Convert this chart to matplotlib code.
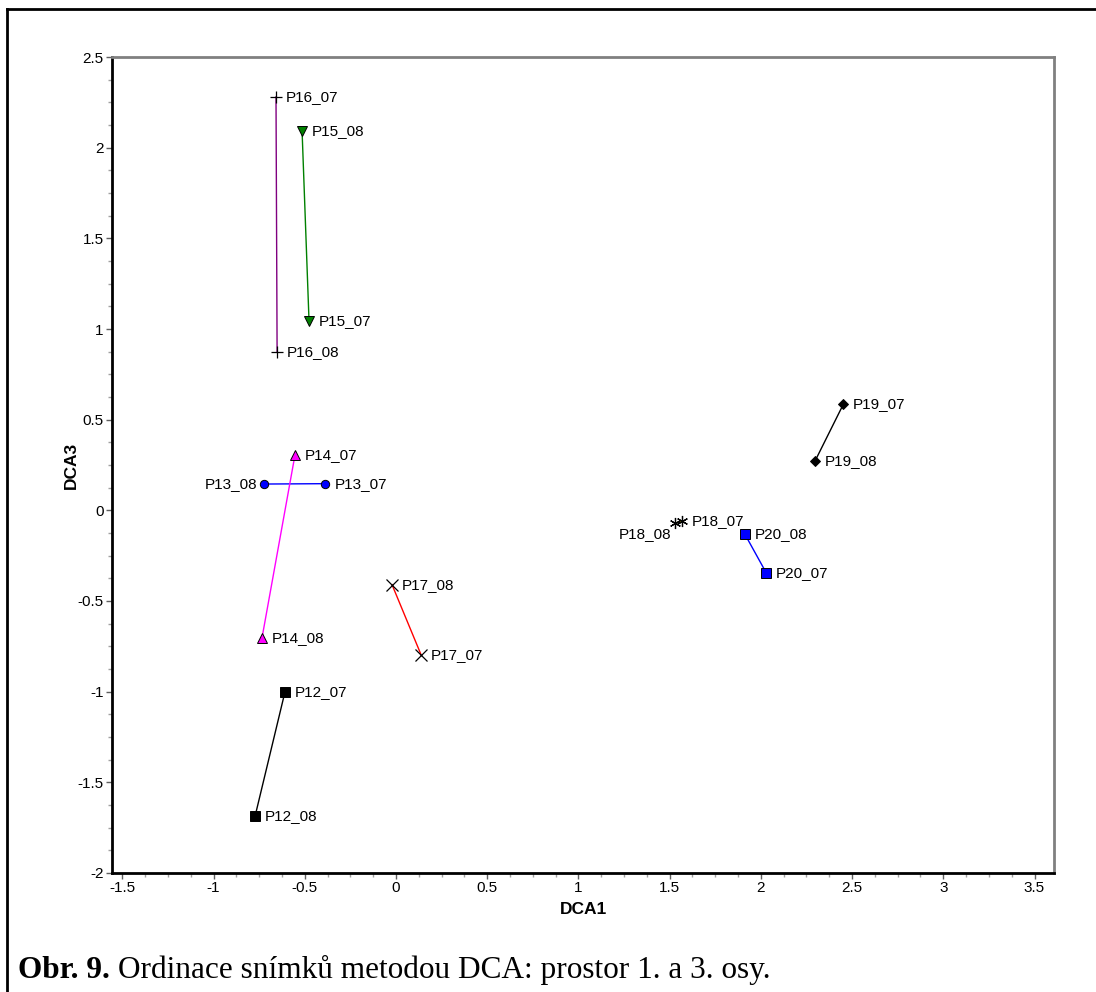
import matplotlib
matplotlib.use("Agg")
import matplotlib.pyplot as plt
from matplotlib.lines import Line2D
from matplotlib.ticker import MultipleLocator

plt.rcParams['font.family'] = ['Liberation Sans', 'DejaVu Sans']

# DCA site scores (axis 1, axis 3) for each plot in 2007 and 2008
plots = ["P12", "P13", "P14", "P15", "P16", "P17", "P18", "P19", "P20"]
dca1_07 = [-0.609, -0.389, -0.554, -0.477, -0.658, 0.137, 1.570, 2.452, 2.029]
dca3_07 = [-1.002, 0.147, 0.305, 1.045, 2.280, -0.796, -0.060, 0.585, -0.344]
dca1_08 = [-0.773, -0.724, -0.735, -0.515, -0.652, -0.022, 1.530, 2.297, 1.913]
dca3_08 = [-1.688, 0.145, -0.705, 2.090, 0.872, -0.410, -0.070, 0.272, -0.133]

line_colors = ["black", "blue", "#FF00FF", "#008000", "#800080", "red", "#FFFF00", "black", "blue"]
markers = ["s", "o", "^", "v", "+", "x", (6, 2, 0), "D", "s"]
marker_faces = ["black", "blue", "#FF00FF", "#008000", "black", "black", "black", "black", "blue"]
marker_sizes = [7, 6, 7, 7, 8, 8, 8, 5, 7]

# label offsets in points (dx, dy, ha) for the 2007 and 2008 samples
off_07 = [(7, 0, "left")] * 9
off_08 = [(7, 0, "left"), (-5, 0, "right"), (7, 0, "left"), (7, 0, "left"),
          (7, 0, "left"), (7, 0, "left"), (-3, -8, "right"), (7, 0, "left"), (7, 0, "left")]

fig = plt.figure(figsize=(10.96, 9.92), dpi=100)
ax = fig.add_axes([0.1022, 0.12, 0.8595, 0.8225])

for i, p in enumerate(plots):
    ax.plot([dca1_07[i], dca1_08[i]], [dca3_07[i], dca3_08[i]],
            color=line_colors[i], lw=1.0, zorder=2)
    for xv, yv, yr, off in ((dca1_07[i], dca3_07[i], "07", off_07[i]),
                            (dca1_08[i], dca3_08[i], "08", off_08[i])):
        m = markers[i]
        if m in ("+", "x", (6, 2, 0)):
            ax.plot(xv, yv, marker=m, ms=marker_sizes[i], color="black",
                    mew=0.9, ls="none", zorder=3)
        else:
            ax.plot(xv, yv, marker=m, ms=marker_sizes[i], mfc=marker_faces[i],
                    mec="black", mew=0.7, ls="none", zorder=3)
        ax.annotate(f"{p}_{yr}", (xv, yv), xytext=(off[0], off[1]),
                    textcoords="offset points", ha=off[2], va="center",
                    fontsize=11, color="black")

ax.xaxis.set_major_locator(MultipleLocator(0.5))
ax.xaxis.set_minor_locator(MultipleLocator(0.125))
ax.yaxis.set_major_locator(MultipleLocator(0.5))
ax.yaxis.set_minor_locator(MultipleLocator(0.125))
ax.set_xlim(-1.557, 3.607)
ax.set_ylim(-2, 2.5)

def fmt(v):
    s = f"{v:g}"
    return "0" if s in ("-0", "0") else s

xt = [v for v in ax.get_xticks() if -1.557 <= v <= 3.607]
yt = [v for v in ax.get_yticks() if -2 <= v <= 2.5]
ax.set_xticks(xt)
ax.set_xticklabels([fmt(v) for v in xt])
ax.set_yticks(yt)
ax.set_yticklabels([fmt(v) for v in yt])
ax.set_xlim(-1.557, 3.607)
ax.set_ylim(-2, 2.5)

ax.tick_params(which="major", direction="out", length=4, width=1, color="#606060",
               labelsize=11, pad=2)
ax.tick_params(which="minor", direction="out", length=3, width=1, color="#a0a0a0")

for s in ("left", "bottom"):
    ax.spines[s].set_color("black")
    ax.spines[s].set_linewidth(2)
for s in ("top", "right"):
    ax.spines[s].set_color("#808080")
    ax.spines[s].set_linewidth(2)

ax.set_xlabel("DCA1", fontsize=12.5, fontweight="bold", labelpad=5)
ax.set_ylabel("DCA3", fontsize=12.5, fontweight="bold", labelpad=-1)

# page frame around the figure
fig.add_artist(Line2D([7 / 1096, 7 / 1096], [0, 1 - 9 / 992], transform=fig.transFigure,
                      color="black", lw=2))
fig.add_artist(Line2D([7 / 1096, 1], [1 - 9 / 992, 1 - 9 / 992], transform=fig.transFigure,
                      color="black", lw=2))

# caption
cap_y = 1 - 970 / 992
t1 = fig.text(18 / 1096, cap_y, "Obr. 9.", family="Liberation Serif", fontweight="bold",
              fontsize=22.5, va="center", ha="left")
fig.canvas.draw()
bb = t1.get_window_extent()
fig.text(bb.x1 / fig.bbox.width + 8 / 1096, cap_y,
         "Ordinace snímků metodou DCA: prostor 1. a 3. osy.",
         family="Liberation Serif", fontsize=22.5, va="center", ha="left")

fig.savefig("out.png", dpi=100)
